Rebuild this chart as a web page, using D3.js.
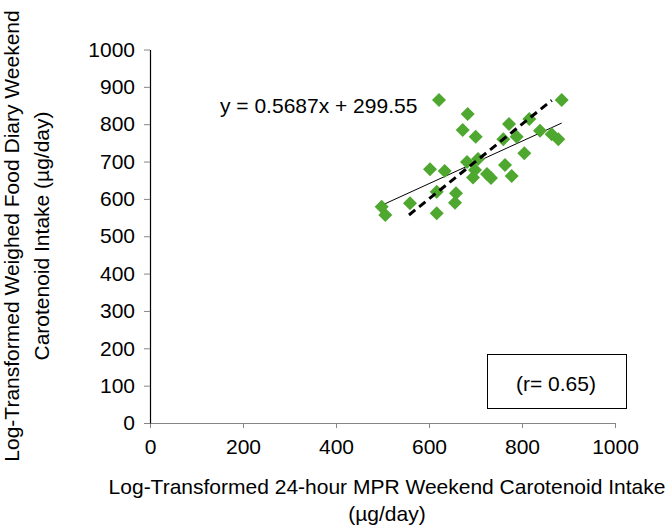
<!DOCTYPE html>
<html>
<head>
<meta charset="utf-8">
<script src="https://cdn.jsdelivr.net/npm/d3@7"></script>
<style>
  html, body { margin: 0; padding: 0; background: #fff; }
  svg { display: block; font-family: "Liberation Sans", Arial, sans-serif; }
</style>
</head>
<body>
<svg id="chart" width="672" height="532"></svg>
<script>
// ---- data ----
const mprIntake = [621.5, 683.2, 672.5, 700.4, 602.2, 633.8, 681.7, 705.4, 698.9, 694.6,
                   724.7, 733.3, 616.6, 658.1, 655.9, 559.1, 498.3, 506.0, 616.6, 885.4,
                   772.0, 815.7, 759.8, 788.6, 838.7, 863.9, 878.1, 805.0, 763.4, 777.8];
const diaryIntake = [864.8, 827.3, 784.5, 766.5, 679.3, 674.7, 698.8, 706.8, 677.4, 657.3,
                     666.7, 656.0, 619.3, 615.0, 589.8, 588.2, 579.1, 556.9, 561.4, 864.8,
                     800.5, 813.9, 759.6, 766.5, 782.6, 773.0, 759.6, 722.1, 690.8, 661.3];
const regSlope = 0.5687;
const regIntercept = 299.55;
const identityRange = [557, 864];
const xTicks = [0, 200, 400, 600, 800, 1000];
const yTicks = [0, 100, 200, 300, 400, 500, 600, 700, 800, 900, 1000];
const equationLabel = "y = 0.5687x + 299.55";
const rLabel = "(r= 0.65)";
const xTitle = ["Log-Transformed 24-hour MPR Weekend Carotenoid Intake", "(\u00b5g/day)"];
const yTitle = ["Log-Transformed Weighed Food Diary Weekend", "Carotenoid Intake (\u00b5g/day)"];

// ---- layout ----
const svg = d3.select("#chart");
const x = d3.scaleLinear().domain([0, 1000]).range([150, 615]);
const y = d3.scaleLinear().domain([0, 1000]).range([423, 49.5]);
const FS = 21;
const fmt = d3.format("d");

// x axis
const gx = svg.append("g").attr("transform", `translate(0,${y(0)})`)
  .call(d3.axisBottom(x).tickValues(xTicks).tickFormat(fmt).tickSize(5).tickSizeOuter(0).tickPadding(11));
gx.select(".domain").attr("stroke", "#868686").attr("stroke-width", 1.2);
gx.selectAll(".tick line").attr("stroke", "#868686");
gx.selectAll(".tick text").attr("font-size", FS).attr("fill", "#000")
  .attr("font-family", "Liberation Sans, Arial, sans-serif");

// y axis
const gy = svg.append("g").attr("transform", `translate(${x(0)},0)`)
  .call(d3.axisLeft(y).tickValues(yTicks).tickFormat(fmt).tickSize(6).tickSizeOuter(0).tickPadding(9));
gy.select(".domain").attr("stroke", "#000").attr("stroke-width", 1.2);
gy.selectAll(".tick line").attr("stroke", "#868686");
gy.selectAll(".tick text").attr("font-size", FS).attr("fill", "#000")
  .attr("font-family", "Liberation Sans, Arial, sans-serif");

// axis titles
svg.append("text").attr("x", 387).attr("y", 494)
  .attr("text-anchor", "middle").attr("font-size", FS).text(xTitle[0]);
svg.append("text").attr("x", 387).attr("y", 521)
  .attr("text-anchor", "middle").attr("font-size", FS).text(xTitle[1]);
const yt = svg.append("g").attr("transform", `translate(0,236) rotate(-90)`);
yt.append("text").attr("x", 0).attr("y", 19)
  .attr("text-anchor", "middle").attr("font-size", FS).text(yTitle[0]);
yt.append("text").attr("x", 0).attr("y", 49)
  .attr("text-anchor", "middle").attr("font-size", FS).text(yTitle[1]);

// regression (solid) line over data extent
const xExt = d3.extent(mprIntake);
svg.append("line")
  .attr("x1", x(xExt[0])).attr("y1", y(regSlope * xExt[0] + regIntercept))
  .attr("x2", x(xExt[1])).attr("y2", y(regSlope * xExt[1] + regIntercept))
  .attr("stroke", "#000").attr("stroke-width", 1);

// points
const diamond = "M0,-7L7,0L0,7L-7,0Z";
svg.append("g").selectAll("path")
  .data(mprIntake.map((v, i) => [v, diaryIntake[i]]))
  .join("path")
  .attr("d", diamond)
  .attr("transform", d => `translate(${x(d[0])},${y(d[1])})`)
  .attr("fill", "#4ea72e");

// line of identity (dashed)
svg.append("line")
  .attr("x1", x(identityRange[0])).attr("y1", y(identityRange[0]))
  .attr("x2", x(identityRange[1])).attr("y2", y(identityRange[1]))
  .attr("stroke", "#000").attr("stroke-width", 3)
  .attr("stroke-dasharray", "8,5");

// equation
svg.append("text").attr("x", 220).attr("y", 113)
  .attr("font-size", FS).text(equationLabel);

// r box
svg.append("rect").attr("x", 487.5).attr("y", 354.5).attr("width", 139).attr("height", 54)
  .attr("fill", "#fff").attr("stroke", "#000").attr("stroke-width", 1);
svg.append("text").attr("x", 556).attr("y", 391)
  .attr("text-anchor", "middle").attr("font-size", FS).text(rLabel);
</script>
</body>
</html>
